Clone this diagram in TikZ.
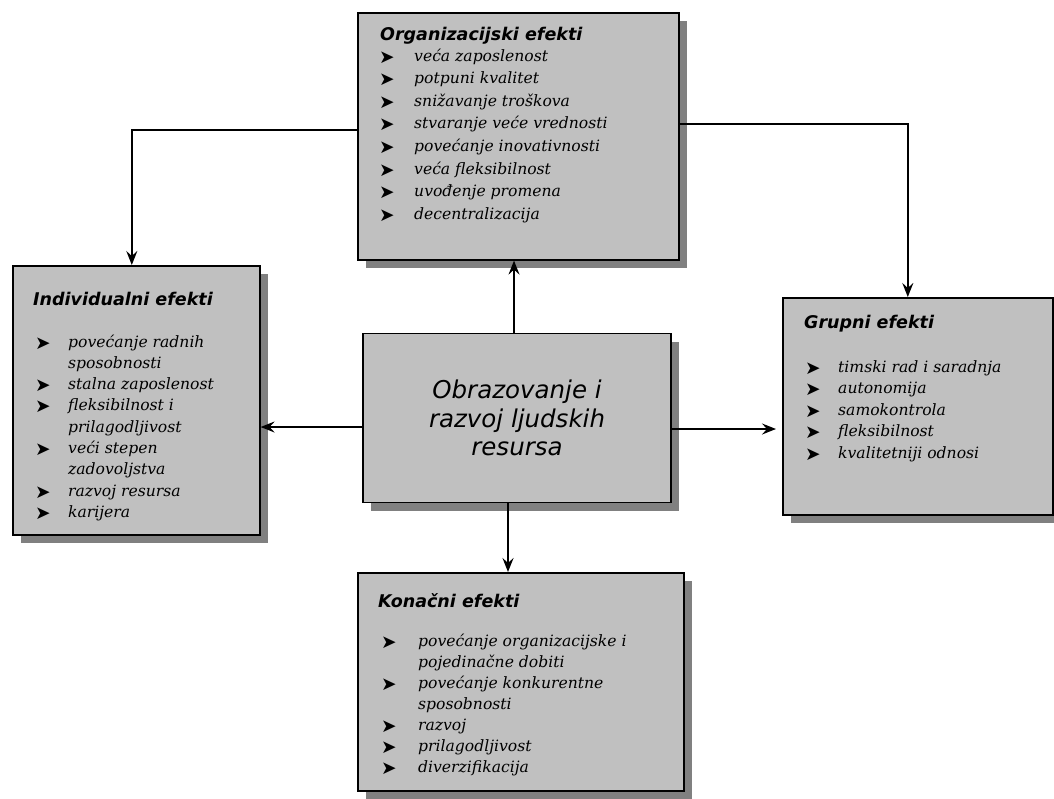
\documentclass[tikz,border=0pt]{standalone}
\usepackage{fontspec}
\usetikzlibrary{shadows,arrows.meta}
\newfontfamily\ttlfont{DejaVu Sans}
\newfontfamily\itmfont{DejaVu Serif}
\newfontfamily\symfont{DejaVu Sans}
\definecolor{boxgray}{HTML}{C0C0C0}
\definecolor{shadowgray}{HTML}{808080}
\begin{document}
\begin{tikzpicture}[x=1pt,y=-1pt,
  panel/.style={draw=black, line width=1.6pt, fill=boxgray,
    drop shadow={shadow xshift=8pt, shadow yshift=-8pt, fill=shadowgray, opacity=1},
    inner sep=0pt},
  ttl/.style={anchor=base west, inner sep=0pt, font=\ttlfont\bfseries\itshape\fontsize{17.5}{20}\selectfont},
  itm/.style={anchor=base west, inner sep=0pt, font=\itmfont\itshape\fontsize{15.6}{18}\selectfont},
  bul/.style={anchor=base west, inner sep=0pt, font=\symfont\fontsize{18.5}{20}\selectfont},
  conn/.style={line width=1.8pt, -{Stealth[length=14pt,width=11pt,inset=5pt]}}
]
\useasboundingbox (0,0) rectangle (1054,798);

% boxes
\node[panel, anchor=north west, minimum width=321pt, minimum height=247pt] (org) at (357,12) {};
\node[panel, anchor=north west, minimum width=247pt, minimum height=269pt] (ind) at (12,265) {};
\node[panel, anchor=north west, minimum width=270pt, minimum height=217pt] (grp) at (782,297) {};
\node[panel, anchor=north west, minimum width=326pt, minimum height=218pt] (kon) at (357,572) {};
\node[panel, anchor=center, minimum width=308pt, minimum height=169pt, align=center,
  font=\ttlfont\itshape\fontsize{24.5}{28.5}\selectfont] (ctr) at (517,418)
  {Obrazovanje i\\razvoj ljudskih\\resursa};

% Organizacijski efekti
\node[ttl] (org-title) at (380,40) {Organizacijski efekti};
\foreach \t [count=\i from 0] in {veća zaposlenost, potpuni kvalitet, snižavanje troškova,
  stvaranje veće vrednosti, povećanje inovativnosti, veća fleksibilnost, uvođenje promena,
  decentralizacija} {
  \node[bul] (org-b\i) at (379,{63+22.6*\i}) {➤};
  \node[itm] (org-t\i) at (414,{61+22.6*\i}) {\t};
}

% Individualni efekti
\node[ttl] (ind-title) at (33,305) {Individualni efekti};
\foreach \t/\b [count=\i from 0] in {povećanje radnih/1, sposobnosti/0, stalna zaposlenost/1,
  fleksibilnost i/1, prilagodljivost/0, veći stepen/1, zadovoljstva/0, razvoj resursa/1, karijera/1} {
  \ifnum\b=1 \node[bul] (ind-b\i) at (35,{349+21.3*\i}) {➤}; \fi
  \node[itm] (ind-t\i) at (68,{347+21.3*\i}) {\t};
}

% Grupni efekti
\node[ttl] (grp-title) at (804,328) {Grupni efekti};
\foreach \t [count=\i from 0] in {timski rad i saradnja, autonomija, samokontrola,
  fleksibilnost, kvalitetniji odnosi} {
  \node[bul] (grp-b\i) at (805,{374+21.6*\i}) {➤};
  \node[itm] (grp-t\i) at (838,{372+21.6*\i}) {\t};
}

% Konačni efekti
\node[ttl] (kon-title) at (378,607) {Konačni efekti};
\foreach \t/\b [count=\i from 0] in {povećanje organizacijske i/1, pojedinačne dobiti/0,
  povećanje konkurentne/1, sposobnosti/0, razvoj/1, prilagodljivost/1, diverzifikacija/1} {
  \ifnum\b=1 \node[bul] (kon-b\i) at (381,{648+21*\i}) {➤}; \fi
  \node[itm] (kon-t\i) at (418,{646+21*\i}) {\t};
}

% connectors
\draw[conn] ([xshift=-3pt]ctr.north) -- ([xshift=-3pt]ctr.north |- org.south);
\draw[conn] ([xshift=-9pt]ctr.south) -- ([xshift=-9pt]ctr.south |- kon.north);
\draw[conn] ([yshift=-9pt]ctr.west) -- ([yshift=-9pt]ctr.west -| ind.east);
\draw[conn] ([yshift=-11pt]ctr.east) -- ([yshift=-11pt,xshift=-6pt]ctr.east -| grp.west);
\draw[conn] ([yshift=6.5pt]org.west) -| ([xshift=-4.5pt]ind.north);
\draw[conn] ([yshift=12.5pt]org.east) -| ([xshift=-10pt]grp.north);
\end{tikzpicture}
\end{document}
